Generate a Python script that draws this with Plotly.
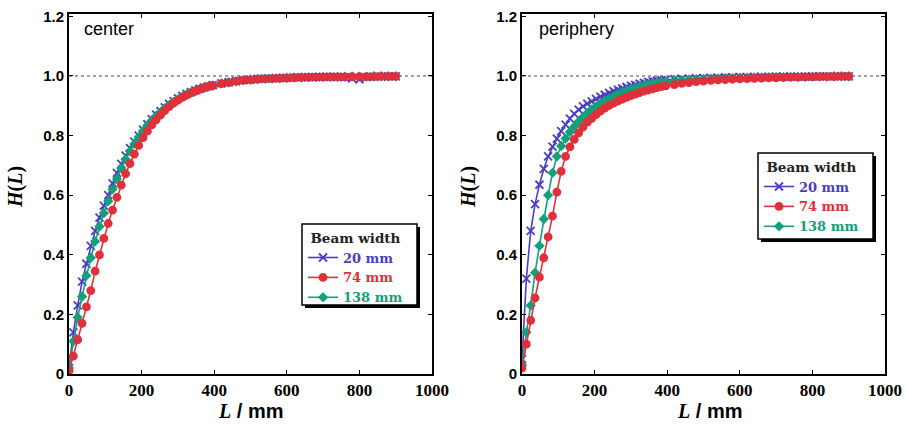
import plotly.graph_objects as go

# ---------------- data ----------------
L_MM = [0, 12, 24, 36, 48, 60, 72, 84, 96, 108, 120, 132, 144, 156, 168, 180, 192, 204,
        216, 228, 240, 252, 264, 276, 288, 300, 312, 324, 336, 348, 360, 372, 384, 396,
        420, 440, 460, 480, 500, 520, 540, 560, 580, 600, 620, 640, 660, 680, 700, 720,
        740, 760, 780, 800, 820, 840, 860, 880, 900]

center_20 = [0.02, 0.14, 0.23, 0.31, 0.37, 0.43, 0.48, 0.525, 0.565, 0.60, 0.64, 0.675,
             0.705, 0.733, 0.758, 0.78, 0.80, 0.82, 0.838, 0.855, 0.87, 0.882, 0.895, 0.906,
             0.916, 0.925, 0.933, 0.94, 0.946, 0.952, 0.957, 0.962, 0.966, 0.969,
             0.975, 0.979, 0.983, 0.986, 0.988, 0.99, 0.991, 0.992, 0.993, 0.994, 0.995,
             0.995, 0.996, 0.996, 0.997, 0.997, 0.997, 0.996, 0.992, 0.989, 0.996, 0.998,
             0.998, 0.999, 0.999]
center_74 = [0.01, 0.06, 0.115, 0.17, 0.225, 0.28, 0.345, 0.40, 0.455, 0.505, 0.55, 0.593,
             0.634, 0.672, 0.706, 0.738, 0.767, 0.793, 0.815, 0.836, 0.853, 0.869, 0.884,
             0.897, 0.909, 0.919, 0.928, 0.936, 0.943, 0.949, 0.955, 0.96, 0.964, 0.968,
             0.974, 0.978, 0.982, 0.985, 0.987, 0.989, 0.99, 0.991, 0.992, 0.993, 0.994,
             0.995, 0.995, 0.996, 0.996, 0.997, 0.997, 0.997, 0.998, 0.998, 0.998, 0.998,
             0.999, 0.999, 0.999]
center_138 = [0.02, 0.11, 0.19, 0.26, 0.33, 0.39, 0.445, 0.495, 0.54, 0.58, 0.62, 0.655,
              0.69, 0.72, 0.748, 0.772, 0.795, 0.815, 0.834, 0.851, 0.866, 0.879, 0.892,
              0.903, 0.913, 0.922, 0.931, 0.938, 0.945, 0.951, 0.956, 0.961, 0.965, 0.968,
              0.975, 0.979, 0.983, 0.986, 0.988, 0.99, 0.991, 0.992, 0.993, 0.994, 0.995,
              0.995, 0.996, 0.996, 0.997, 0.997, 0.997, 0.998, 0.998, 0.998, 0.998, 0.999,
              0.999, 0.999, 0.999]

periphery_20 = [0.05, 0.32, 0.48, 0.57, 0.635, 0.688, 0.73, 0.763, 0.79, 0.815, 0.837,
                0.857, 0.873, 0.887, 0.898, 0.907, 0.915, 0.923, 0.931, 0.937, 0.943, 0.949,
                0.954, 0.958, 0.963, 0.967, 0.97, 0.974, 0.977, 0.98, 0.982, 0.984, 0.986,
                0.987,
                0.989, 0.99, 0.991, 0.992, 0.993, 0.994, 0.994, 0.995, 0.995, 0.996, 0.996,
                0.997, 0.997, 0.997, 0.998, 0.998, 0.998, 0.998, 0.998, 0.999, 0.999, 0.999,
                0.999, 0.999, 0.999]
periphery_74 = [0.02, 0.10, 0.18, 0.255, 0.325, 0.39, 0.46, 0.53, 0.61, 0.68, 0.73, 0.762,
                0.787, 0.809, 0.828, 0.845, 0.858, 0.87, 0.882, 0.892, 0.901, 0.909, 0.916,
                0.922, 0.928, 0.934, 0.939, 0.944, 0.949, 0.953, 0.957, 0.961, 0.964, 0.967,
                0.971, 0.975, 0.978, 0.981, 0.983, 0.985, 0.987, 0.988, 0.989, 0.99, 0.991,
                0.992, 0.993, 0.994, 0.994, 0.995, 0.996, 0.996, 0.997, 0.997, 0.998, 0.998,
                0.998, 0.999, 0.999]
periphery_138 = [0.03, 0.14, 0.23, 0.34, 0.43, 0.52, 0.60, 0.675, 0.73, 0.765, 0.79, 0.812,
                 0.83, 0.847, 0.862, 0.876, 0.888, 0.898, 0.907, 0.916, 0.924, 0.931, 0.938,
                 0.945, 0.95, 0.955, 0.96, 0.964, 0.968, 0.971, 0.974, 0.977, 0.979, 0.981,
                 0.984, 0.986, 0.988, 0.989, 0.99, 0.991, 0.992, 0.993, 0.993, 0.994, 0.994,
                 0.995, 0.995, 0.996, 0.996, 0.996, 0.997, 0.997, 0.997, 0.998, 0.998, 0.998,
                 0.999, 0.999, 0.999]

BEAM_LABELS = ["20 mm", "74 mm", "138 mm"]
PANEL_LABELS = ["center", "periphery"]
X_TICKS = [0, 200, 400, 600, 800, 1000]
X_TICKTEXT = ["0", "200", "400", "600", "800", "1000"]
Y_TICKS = [0, 0.2, 0.4, 0.6, 0.8, 1.0, 1.2]
Y_TICKTEXT = ["0", "0.2", "0.4", "0.6", "0.8", "1.0", "1.2"]

# ---------------- style ----------------
W, H = 906, 431
COLORS = ["#4a3fc4", "#e0303a", "#14a07a"]
SYMBOLS = ["x-thin-open", "circle", "diamond"]
SIZES = [8, 7, 6]


def px(x):
    return x / W


def py(y):
    return 1 - y / H


fig = go.Figure()

panels = [
    ("x", "y", "legend", [center_20, center_74, center_138]),
    ("x2", "y2", "legend2", [periphery_20, periphery_74, periphery_138]),
]
order = [0, 2, 1]  # draw blue, green, then red on top; legend keeps 20/74/138
for xa, ya, leg, series in panels:
    for i in order:
        fig.add_trace(go.Scatter(
            x=L_MM, y=series[i], xaxis=xa, yaxis=ya, mode="lines+markers",
            name=f"<span style='color:{COLORS[i]}'>{BEAM_LABELS[i]}</span>",
            legend=leg, legendrank=i + 1,
            line=dict(color=COLORS[i], width=1.6),
            marker=dict(symbol=SYMBOLS[i], size=SIZES[i], color=COLORS[i],
                        line=dict(color=COLORS[i], width=1.8)),
        ))

axis_common = dict(
    showline=True, linecolor="black", linewidth=2, mirror="ticks",
    ticks="inside", ticklen=4, tickcolor="black", tickwidth=1,
    showgrid=False, zeroline=False, automargin=False,
)
xfont = dict(family="Liberation Serif", size=17, color="black", weight="bold")
yfont = dict(family="Liberation Sans", size=15, color="black", weight="bold")

doms_x = [(px(69), px(432)), (px(522), px(885))]
dom_y = (py(374), py(14))

layout = dict(
    width=W, height=H, margin=dict(l=0, r=0, t=0, b=0, autoexpand=False),
    paper_bgcolor="white", plot_bgcolor="white",
    showlegend=True,
)
for k, (dx, suffix) in enumerate(zip(doms_x, ["", "2"])):
    layout["xaxis" + suffix] = dict(axis_common, domain=list(dx), range=[0, 1000],
                                    tickvals=X_TICKS, ticktext=X_TICKTEXT, tickfont=xfont,
                                    anchor="y" + suffix)
    layout["yaxis" + suffix] = dict(axis_common, domain=list(dom_y), range=[0, 1.208],
                                    tickvals=Y_TICKS, ticktext=Y_TICKTEXT, tickfont=yfont,
                                    anchor="x" + suffix)

legfont = dict(family="DejaVu Serif", size=13, color="black", weight="bold")
legbox = [(302, 224, 417, 305), (758, 153, 873, 239)]
for name, (x0, y0, x1, y1) in zip(["legend", "legend2"], legbox):
    layout[name] = dict(
        x=px(x0 + 1), y=py(y0 + 1), xanchor="left", yanchor="top",
        xref="paper", yref="paper",
        bgcolor="rgba(0,0,0,0)", borderwidth=0,
        font=legfont, tracegroupgap=0, itemwidth=30,
        title=dict(text="Beam width", side="top center",
                   font=dict(family="DejaVu Serif", size=13.5, color="#222", weight="bold")),
    )

fig.update_layout(**layout)

shapes = []
# dotted reference line at H = 1
for xa, ya in [("x", "y"), ("x2", "y2")]:
    shapes.append(dict(type="line", xref=xa, yref=ya, x0=0, x1=1000, y0=1.0, y1=1.0,
                       line=dict(color="#444", width=1, dash="dot"), layer="below"))
# legend frames with drop shadow
for (x0, y0, x1, y1) in legbox:
    shapes.append(dict(type="rect", xref="paper", yref="paper",
                       x0=px(x0 + 3), x1=px(x1 + 3), y0=py(y1 + 3), y1=py(y0 + 3),
                       fillcolor="black", line=dict(width=0)))
    shapes.append(dict(type="rect", xref="paper", yref="paper",
                       x0=px(x0), x1=px(x1), y0=py(y1), y1=py(y0),
                       fillcolor="white", line=dict(color="black", width=1.5)))
fig.update_layout(shapes=shapes)

ann = []
# panel labels
for lab, x in zip(PANEL_LABELS, [82, 537]):
    ann.append(dict(text=lab, xref="paper", yref="paper", x=px(x), y=py(29),
                    xanchor="left", yanchor="middle", showarrow=False,
                    font=dict(family="Liberation Sans", size=18, color="black")))
# axis titles
for xc in [250, 709]:
    ann.append(dict(
        text="<i>L</i><span style='font-family:Liberation Sans'> / mm</span>",
        xref="paper", yref="paper", x=px(xc), y=py(411),
        xanchor="center", yanchor="middle", showarrow=False,
        font=dict(family="Liberation Serif", size=20, color="black", weight="bold")))
for xc in [15, 468]:
    ann.append(dict(
        text="<i>H</i>(<i>L</i>)", textangle=-90,
        xref="paper", yref="paper", x=px(xc), y=py(187),
        xanchor="center", yanchor="middle", showarrow=False,
        font=dict(family="Liberation Serif", size=20, color="black", weight="bold")))
fig.update_layout(annotations=ann)

fig.write_html("out.html", config={"displayModeBar": False},
               post_script="document.body.style.margin='0';document.body.style.overflow='hidden';")
